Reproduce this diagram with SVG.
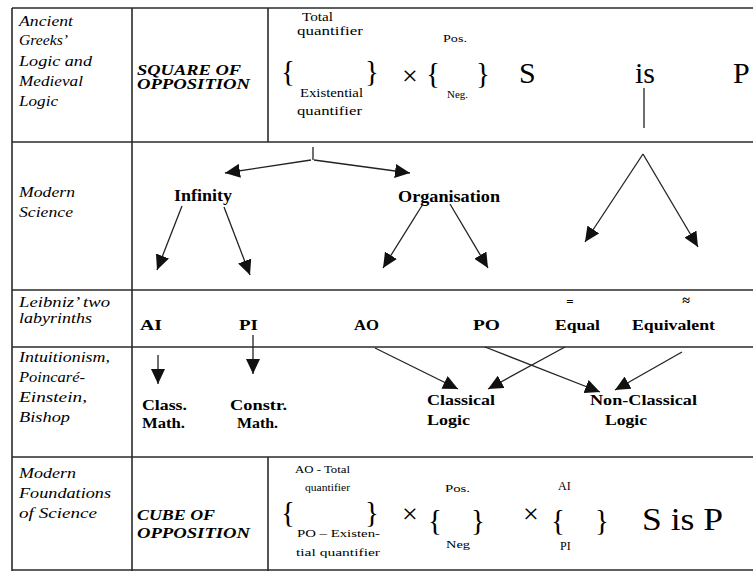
<svg xmlns="http://www.w3.org/2000/svg" width="753" height="571" viewBox="0 0 753 571">
<defs>
<marker id="ah" markerUnits="userSpaceOnUse" markerWidth="16" markerHeight="14" refX="15" refY="7" orient="auto">
<path d="M0,0 L15,7 L0,14 z" fill="#111"/>
</marker>
</defs>
<rect width="753" height="571" fill="#fff"/>
<g id="grid" stroke="#2a2a2a" stroke-width="1.6">
<line x1="12" y1="8" x2="753" y2="8"/>
<line x1="12" y1="8" x2="12" y2="571"/>
<line x1="132" y1="8" x2="132" y2="571"/>
<line x1="268" y1="8" x2="268" y2="142"/>
<line x1="268" y1="457" x2="268" y2="571"/>
<line x1="12" y1="142" x2="753" y2="142"/>
<line x1="12" y1="290" x2="753" y2="290"/>
<line x1="12" y1="347" x2="753" y2="347"/>
<line x1="12" y1="457" x2="753" y2="457"/>
<line x1="12" y1="570" x2="753" y2="570"/>
</g>
<g id="row1">
<text x="19" y="26" font-family="serif" font-style="italic" font-size="14.5" textLength="54" lengthAdjust="spacingAndGlyphs">Ancient</text>
<text x="19" y="45" font-family="serif" font-style="italic" font-size="14.5" textLength="49" lengthAdjust="spacingAndGlyphs">Greeks&#8217;</text>
<text x="19" y="66" font-family="serif" font-style="italic" font-size="14.5" textLength="73" lengthAdjust="spacingAndGlyphs">Logic and</text>
<text x="19" y="86" font-family="serif" font-style="italic" font-size="14.5" textLength="64" lengthAdjust="spacingAndGlyphs">Medieval</text>
<text x="19" y="106" font-family="serif" font-style="italic" font-size="14.5" textLength="39" lengthAdjust="spacingAndGlyphs">Logic</text>
<text x="137" y="75" font-family="serif" font-style="italic" font-weight="bold" font-size="14" textLength="104" lengthAdjust="spacingAndGlyphs">SQUARE OF</text>
<text x="137" y="89" font-family="serif" font-style="italic" font-weight="bold" font-size="14" textLength="113" lengthAdjust="spacingAndGlyphs">OPPOSITION</text>
<text x="302" y="21" font-family="serif" font-size="12" textLength="31" lengthAdjust="spacingAndGlyphs">Total</text>
<text x="297" y="35" font-family="serif" font-size="12" textLength="66" lengthAdjust="spacingAndGlyphs">quantifier</text>
<text x="300" y="97" font-family="serif" font-size="12" textLength="63" lengthAdjust="spacingAndGlyphs">Existential</text>
<text x="297" y="115" font-family="serif" font-size="12" textLength="65" lengthAdjust="spacingAndGlyphs">quantifier</text>
<text x="443" y="42" font-family="serif" font-size="11" textLength="24" lengthAdjust="spacingAndGlyphs">Pos.</text>
<text x="447" y="98" font-family="serif" font-size="11" textLength="21" lengthAdjust="spacingAndGlyphs">Neg.</text>
<text x="281" y="81" font-family="serif" font-size="29">{</text>
<text x="365" y="81" font-family="serif" font-size="29">}</text>
<text x="426" y="83" font-family="serif" font-size="29">{</text>
<text x="476" y="83" font-family="serif" font-size="29">}</text>
<text x="410" y="85" text-anchor="middle" font-family="serif" font-size="28">&#215;</text>
<text x="519" y="83" font-family="serif" font-size="30">S</text>
<text x="635" y="83" font-family="serif" font-size="30">is</text>
<text x="733" y="83" font-family="serif" font-size="30">P</text>
</g>
<g id="row2">
<text x="19" y="197" font-family="serif" font-style="italic" font-size="14.5" textLength="56" lengthAdjust="spacingAndGlyphs">Modern</text>
<text x="19" y="217" font-family="serif" font-style="italic" font-size="14.5" textLength="54" lengthAdjust="spacingAndGlyphs">Science</text>
<g id="infinity"><text x="174" y="201" font-family="serif" font-weight="bold" font-size="16" textLength="58" lengthAdjust="spacingAndGlyphs">Infinity</text></g>
<g id="organisation"><text x="398" y="202" font-family="serif" font-weight="bold" font-size="16" textLength="102" lengthAdjust="spacingAndGlyphs">Organisation</text></g>
</g>
<g id="row3">
<text x="19" y="307" font-family="serif" font-style="italic" font-size="14.5" textLength="91" lengthAdjust="spacingAndGlyphs">Leibniz&#8217; two</text>
<text x="19" y="323" font-family="serif" font-style="italic" font-size="14.5" textLength="73" lengthAdjust="spacingAndGlyphs">labyrinths</text>
<text id="ai" x="140" y="330" font-family="serif" font-weight="bold" font-size="15" textLength="22" lengthAdjust="spacingAndGlyphs">AI</text>
<text id="pi" x="239" y="330" font-family="serif" font-weight="bold" font-size="15" textLength="19" lengthAdjust="spacingAndGlyphs">PI</text>
<text id="ao" x="354" y="330" font-family="serif" font-weight="bold" font-size="15" textLength="25" lengthAdjust="spacingAndGlyphs">AO</text>
<text id="po" x="473" y="330" font-family="serif" font-weight="bold" font-size="15" textLength="27" lengthAdjust="spacingAndGlyphs">PO</text>
<text id="equal" x="555" y="330" font-family="serif" font-weight="bold" font-size="15" textLength="45" lengthAdjust="spacingAndGlyphs">Equal</text>
<text id="equivalent" x="632" y="330" font-family="serif" font-weight="bold" font-size="15" textLength="83" lengthAdjust="spacingAndGlyphs">Equivalent</text>
<text x="570" y="306" text-anchor="middle" font-family="serif" font-weight="bold" font-size="13">=</text>
<text x="686" y="305" text-anchor="middle" font-family="serif" font-weight="bold" font-size="14">&#8776;</text>
</g>
<g id="row4">
<text x="19" y="362" font-family="serif" font-style="italic" font-size="14.5" textLength="91" lengthAdjust="spacingAndGlyphs">Intuitionism,</text>
<text x="19" y="382" font-family="serif" font-style="italic" font-size="14.5" textLength="66" lengthAdjust="spacingAndGlyphs">Poincar&#233;-</text>
<text x="19" y="402" font-family="serif" font-style="italic" font-size="14.5" textLength="68" lengthAdjust="spacingAndGlyphs">Einstein,</text>
<text x="19" y="422" font-family="serif" font-style="italic" font-size="14.5" textLength="51" lengthAdjust="spacingAndGlyphs">Bishop</text>
<text x="142" y="410" font-family="serif" font-weight="bold" font-size="15" textLength="45" lengthAdjust="spacingAndGlyphs">Class.</text>
<text x="142" y="428" font-family="serif" font-weight="bold" font-size="15" textLength="43" lengthAdjust="spacingAndGlyphs">Math.</text>
<text x="230" y="410" font-family="serif" font-weight="bold" font-size="15" textLength="57" lengthAdjust="spacingAndGlyphs">Constr.</text>
<text x="237" y="428" font-family="serif" font-weight="bold" font-size="15" textLength="41" lengthAdjust="spacingAndGlyphs">Math.</text>
<text x="427" y="405" font-family="serif" font-weight="bold" font-size="15" textLength="68" lengthAdjust="spacingAndGlyphs">Classical</text>
<text x="427" y="425" font-family="serif" font-weight="bold" font-size="15" textLength="43" lengthAdjust="spacingAndGlyphs">Logic</text>
<text x="590" y="405" font-family="serif" font-weight="bold" font-size="15" textLength="107" lengthAdjust="spacingAndGlyphs">Non-Classical</text>
<text x="605" y="425" font-family="serif" font-weight="bold" font-size="15" textLength="42" lengthAdjust="spacingAndGlyphs">Logic</text>
</g>
<g id="row5">
<text x="19" y="478" font-family="serif" font-style="italic" font-size="14.5" textLength="57" lengthAdjust="spacingAndGlyphs">Modern</text>
<text x="19" y="498" font-family="serif" font-style="italic" font-size="14.5" textLength="92" lengthAdjust="spacingAndGlyphs">Foundations</text>
<text x="19" y="518" font-family="serif" font-style="italic" font-size="14.5" textLength="78" lengthAdjust="spacingAndGlyphs">of Science</text>
<text x="137" y="520" font-family="serif" font-style="italic" font-weight="bold" font-size="15" textLength="78" lengthAdjust="spacingAndGlyphs">CUBE OF</text>
<text x="137" y="538" font-family="serif" font-style="italic" font-weight="bold" font-size="15" textLength="113" lengthAdjust="spacingAndGlyphs">OPPOSITION</text>
<text x="295" y="473" font-family="serif" font-size="11" textLength="55" lengthAdjust="spacingAndGlyphs">AO - Total</text>
<text x="305" y="491" font-family="serif" font-size="11" textLength="45" lengthAdjust="spacingAndGlyphs">quantifier</text>
<text x="297" y="537" font-family="serif" font-size="11" textLength="83" lengthAdjust="spacingAndGlyphs">PO &#8211; Existen-</text>
<text x="296" y="556" font-family="serif" font-size="11" textLength="84" lengthAdjust="spacingAndGlyphs">tial quantifier</text>
<text x="445" y="492" font-family="serif" font-size="11" textLength="25" lengthAdjust="spacingAndGlyphs">Pos.</text>
<text x="446" y="548" font-family="serif" font-size="11" textLength="24" lengthAdjust="spacingAndGlyphs">Neg</text>
<text x="558" y="490" font-family="serif" font-size="12">AI</text>
<text x="560" y="550" font-family="serif" font-size="12">PI</text>
<text x="281" y="522" font-family="serif" font-size="29">{</text>
<text x="365" y="522" font-family="serif" font-size="29">}</text>
<text x="428" y="530" font-family="serif" font-size="29">{</text>
<text x="471" y="530" font-family="serif" font-size="29">}</text>
<text x="551" y="530" font-family="serif" font-size="29">{</text>
<text x="595" y="530" font-family="serif" font-size="29">}</text>
<text x="410" y="523" text-anchor="middle" font-family="serif" font-size="28">&#215;</text>
<text x="531" y="523" text-anchor="middle" font-family="serif" font-size="28">&#215;</text>
<text x="642" y="530" font-family="serif" font-size="32" textLength="81" lengthAdjust="spacingAndGlyphs">S is P</text>
</g>
<g id="connectors" stroke="#222" stroke-width="1.3" fill="none">
<line x1="644" y1="88" x2="644" y2="128"/>
<line x1="313" y1="147" x2="313" y2="160"/>
<line marker-end="url(#ah)" x1="311" y1="160" x2="225" y2="173"/>
<line marker-end="url(#ah)" x1="314" y1="160" x2="410" y2="173"/>
<line marker-end="url(#ah)" x1="182" y1="206" x2="157" y2="270"/>
<line marker-end="url(#ah)" x1="224" y1="207" x2="250" y2="275"/>
<line marker-end="url(#ah)" x1="423" y1="204" x2="383" y2="268"/>
<line marker-end="url(#ah)" x1="450" y1="204" x2="488" y2="268"/>
<line marker-end="url(#ah)" x1="643" y1="154" x2="585" y2="242"/>
<line marker-end="url(#ah)" x1="643" y1="154" x2="698" y2="247"/>
<line marker-end="url(#ah)" x1="158" y1="355" x2="158" y2="384"/>
<line marker-end="url(#ah)" x1="253" y1="335" x2="253" y2="374"/>
<line marker-end="url(#ah)" x1="375" y1="348" x2="458" y2="389"/>
<line marker-end="url(#ah)" x1="565" y1="347" x2="488" y2="389"/>
<line marker-end="url(#ah)" x1="485" y1="347" x2="600" y2="392"/>
<line marker-end="url(#ah)" x1="682" y1="352" x2="615" y2="390"/>
</g>
</svg>
